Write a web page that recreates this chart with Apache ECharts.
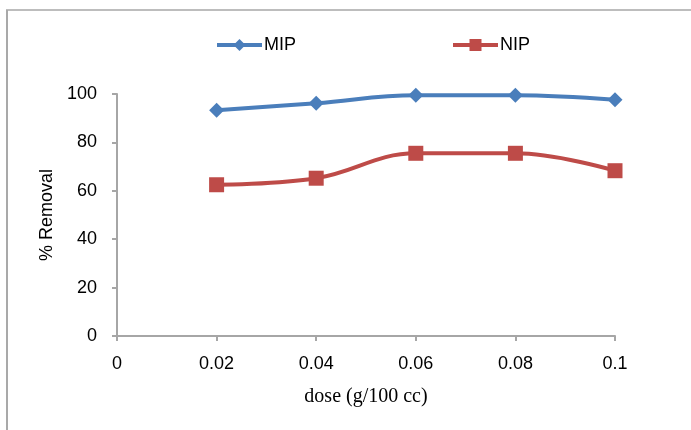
<!DOCTYPE html>
<html>
<head>
<meta charset="utf-8">
<script src="https://cdn.jsdelivr.net/npm/echarts@6/dist/echarts.min.js"></script>
<style>
    html, body { margin: 0; padding: 0; background: #fff; }
    #chart { width: 691px; height: 430px; }
</style>
</head>
<body>
<div id="chart"></div>
<script>
    // 数据
    var doses = [0.02, 0.04, 0.06, 0.08, 0.1]
    var mip = [93.3, 96.2, 99.5, 99.5, 97.6]
    var nip = [62.5, 65.2, 75.5, 75.5, 68.3]

    var chart = echarts.init(document.getElementById('chart'))
    var axisGray = '#a6a6a6'
    var sans = '"Liberation Sans", "DejaVu Sans", sans-serif'

    function pairs(ys) {
        return doses.map(function (x, i) { return [x, ys[i]] })
    }

    chart.setOption({
        animation: false,
        graphic: [
            { type: 'line', shape: { x1: 6, y1: 10, x2: 691, y2: 10 }, style: { stroke: '#bdbdbd', lineWidth: 2 } },
            { type: 'line', shape: { x1: 7, y1: 10, x2: 7, y2: 430 }, style: { stroke: '#a9a9a9', lineWidth: 2 } }
        ],
        legend: {
            top: 36,
            left: 215,
            padding: 0,
            itemWidth: 45,
            itemHeight: 15,
            itemGap: 155,
            lineStyle: { width: 4 },
            textStyle: { fontFamily: sans, fontSize: 18, color: '#000', padding: [0, 0, 0, -3] },
            data: ['MIP', 'NIP']
        },
        grid: { left: 117, right: 76, top: 94, bottom: 94 },
        xAxis: {
            type: 'value',
            min: 0,
            max: 0.1,
            interval: 0.02,
            name: 'dose (g/100 cc)',
            nameLocation: 'middle',
            nameGap: 51,
            nameTextStyle: { fontFamily: '"Liberation Serif", "Times New Roman", serif', fontSize: 20, color: '#000' },
            splitLine: { show: false },
            axisLine: { lineStyle: { color: axisGray, width: 2 } },
            axisTick: { show: true, length: 5, lineStyle: { color: axisGray, width: 2 } },
            axisLabel: { fontFamily: sans, fontSize: 18, color: '#000', margin: 19 }
        },
        yAxis: {
            type: 'value',
            min: 0,
            max: 100,
            interval: 20,
            name: '% Removal',
            nameLocation: 'middle',
            nameGap: 60,
            nameTextStyle: { fontFamily: sans, fontSize: 18, color: '#000' },
            splitLine: { show: false },
            axisLine: { show: true, lineStyle: { color: axisGray, width: 2 } },
            axisTick: { show: true, length: 5, lineStyle: { color: axisGray, width: 2 } },
            axisLabel: { fontFamily: sans, fontSize: 18, color: '#000', margin: 20 }
        },
        series: [
            {
                name: 'MIP',
                type: 'line',
                smooth: 0.4,
                data: pairs(mip),
                symbol: 'diamond',
                symbolSize: 15,
                itemStyle: { color: '#4a7ebb' },
                lineStyle: { color: '#4a7ebb', width: 4 }
            },
            {
                name: 'NIP',
                type: 'line',
                smooth: 0.4,
                data: pairs(nip),
                symbol: 'rect',
                symbolSize: 15,
                itemStyle: { color: '#be4b48' },
                lineStyle: { color: '#be4b48', width: 4 }
            }
        ]
    })
</script>
</body>
</html>
